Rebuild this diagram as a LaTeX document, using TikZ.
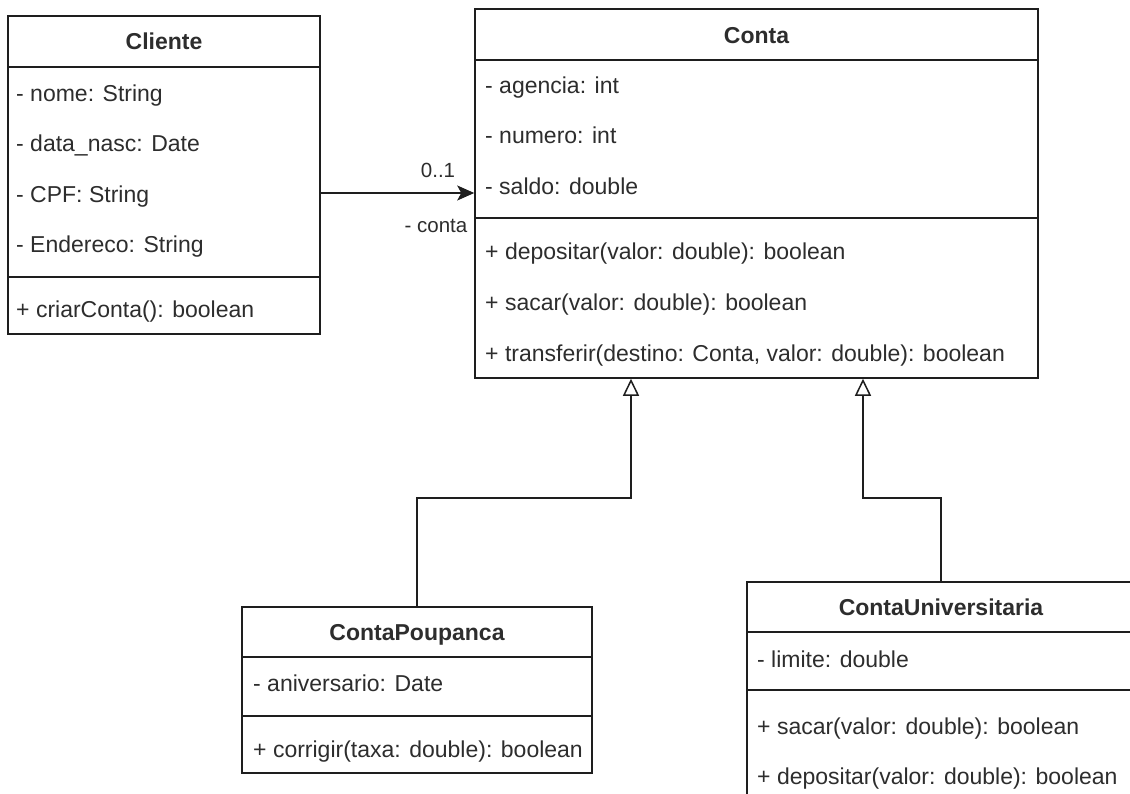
\documentclass[tikz,border=0pt]{standalone}
\usepackage{fontspec}
\setmainfont{Liberation Sans}
\usetikzlibrary{arrows.meta}
\definecolor{ln}{RGB}{30,30,30}
\definecolor{tx}{RGB}{45,45,45}
\tikzset{
  box/.style={draw=ln, line width=1.5pt, fill=white, inner sep=0pt},
  sepline/.style={draw=ln, line width=1.5pt},
  ttl/.style={anchor=base, inner sep=0pt, text=tx, font=\fontsize{23}{27}\selectfont\bfseries},
  row/.style={anchor=base west, inner sep=0pt, text=tx, font=\fontsize{23}{27}\selectfont},
  lbl/.style={anchor=base, inner sep=0pt, text=tx, font=\fontsize{20.5}{24}\selectfont},
  assoc/.style={draw=ln, line width=1.5pt, -{Stealth[length=17pt,width=15pt,inset=4pt]}},
  gen/.style={draw=ln, line width=1.5pt, -{Triangle[open,length=17pt,width=16pt,fill=white]}},
}
\begin{document}
\begin{tikzpicture}[x=1pt,y=-1pt]
\useasboundingbox (0,0) rectangle (1130,794);
\clip (0,0) rectangle (1130,794);
\fill[white] (0,0) rectangle (1130,794);

% Cliente
\node[box, minimum width=312pt, minimum height=318pt] (cliente) at (164,175) {};
\draw[sepline] (cliente.west |- 0,67) -- (cliente.east |- 0,67);
\draw[sepline] (cliente.west |- 0,277) -- (cliente.east |- 0,277);
\node[ttl] (clienteT) at (164,50) {Cliente};
\node[row] (c1) at (16,102) {- nome: String};
\node[row] (c2) at (16,152) {- data\_nasc: Date};
\node[row] (c3) at (16,203) {- CPF: String};
\node[row] (c4) at (16,253) {- Endereco: String};
\node[row] (c5) at (16,318) {+ criarConta(): boolean};

% Conta
\node[box, minimum width=563pt, minimum height=369pt] (conta) at (756.5,193.5) {};
\draw[sepline] (conta.west |- 0,60) -- (conta.east |- 0,60);
\draw[sepline] (conta.west |- 0,218) -- (conta.east |- 0,218);
\node[ttl] (contaT) at (756.5,43.5) {Conta};
\node[row] (k1) at (485,93.5) {- agencia: int};
\node[row] (k2) at (485,144) {- numero: int};
\node[row] (k3) at (485,194.5) {- saldo: double};
\node[row] (k4) at (485,260) {+ depositar(valor: double): boolean};
\node[row] (k5) at (485,311) {+ sacar(valor: double): boolean};
\node[row] (k6) at (485,361) {+ transferir(destino: Conta, valor: double): boolean};

% ContaPoupanca
\node[box, minimum width=350pt, minimum height=166pt] (poup) at (417,690) {};
\draw[sepline] (poup.west |- 0,657) -- (poup.east |- 0,657);
\draw[sepline] (poup.west |- 0,716) -- (poup.east |- 0,716);
\node[ttl] (poupT) at (417,640) {ContaPoupanca};
\node[row] (p1) at (253,691.5) {- aniversario: Date};
\node[row] (p2) at (253,757) {+ corrigir(taxa: double): boolean};

% ContaUniversitaria
\node[box, minimum width=388pt, minimum height=228pt] (univ) at (941,696) {};
\draw[sepline] (univ.west |- 0,632) -- (univ.east |- 0,632);
\draw[sepline] (univ.west |- 0,690) -- (univ.east |- 0,690);
\node[ttl] (univT) at (941,615) {ContaUniversitaria};
\node[row] (u1) at (757,667) {- limite: double};
\node[row] (u2) at (757,734) {+ sacar(valor: double): boolean};
\node[row] (u3) at (757,784) {+ depositar(valor: double): boolean};

% association
\coordinate (assocy) at (0,193);
\draw[assoc] (cliente.east |- assocy) -- (conta.west |- assocy);
\node[lbl] (mult) at (438,178) {0..1};
\node[lbl] (role) at (436,233) {- conta};

% generalizations
\coordinate (genL) at (631,498);
\coordinate (genR) at (863,498);
\draw[gen] (poup.north) |- (genL) -- (genL |- conta.south);
\draw[gen] (univ.north) |- (genR) -- (genR |- conta.south);
\end{tikzpicture}
\end{document}
